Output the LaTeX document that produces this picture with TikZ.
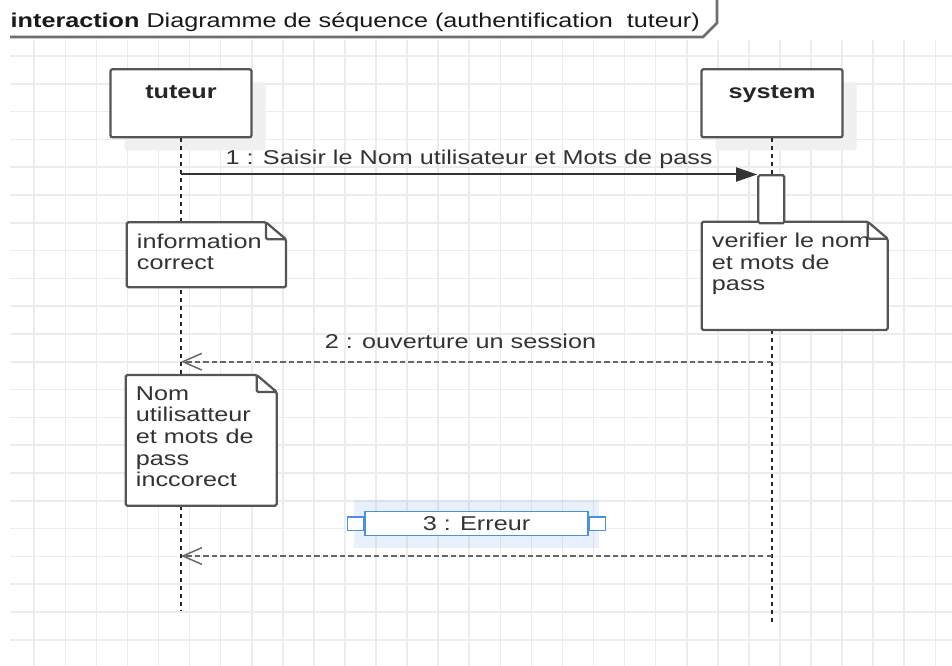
\documentclass[tikz,border=0pt]{standalone}
\usepackage{fontspec}
\setmainfont[FakeStretch=1.26]{Liberation Sans}
\usetikzlibrary{arrows.meta,shadows,positioning}

\definecolor{gridgray}{HTML}{ECECEC}
\definecolor{framegray}{HTML}{6E6E6E}
\definecolor{boxgray}{HTML}{555555}
\definecolor{shadowgray}{HTML}{F0F0F0}
\definecolor{inkgray}{HTML}{333333}
\definecolor{selblue}{HTML}{4A90E2}

\def\px{0.75pt}
\newcommand{\diafont}{\fontsize{15pt}{16.3pt}\selectfont}
% note with folded corner: name, x, y, width, height, text
\newcommand{\umlnote}[6]{%
    \draw[notebox] (#2,#3) -- (#2+#4-20,#3) -- (#2+#4,#3+17) -- (#2+#4,#3+#5) -- (#2,#3+#5) -- cycle;
    \draw[notebox, fill=none] (#2+#4-20,#3) |- (#2+#4,#3+17);
    \node[notetext] (#1) at (#2+10,#3+11) {#6};}

\begin{document}
\begin{tikzpicture}[
        x=0.75pt, y=-0.75pt,
        every node/.style = {font=\diafont, text=inkgray},
        gridline/.style = {draw=gridgray, line width=1.2pt},
        frametab/.style = {draw=framegray, line width=2pt},
        lifebox/.style = {draw=boxgray, line width=1.7pt, fill=white, rounded corners=1.5pt,
            minimum width=141*\px, minimum height=68*\px,
            general shadow={fill=shadowgray, shadow xshift=14*\px, shadow yshift=-13*\px}},
        lifename/.style = {anchor=base, yshift=-30*\px, font=\diafont\bfseries, text=black!85},
        lifeline/.style = {draw=black!85, line width=1.5pt, dash pattern=on 3pt off 3pt},
        notebox/.style = {draw=boxgray, line width=1.7pt, fill=white, rounded corners=1.2pt, line join=round},
        notetext/.style = {anchor=north west, inner sep=0pt, align=left},
        actbox/.style = {draw=boxgray, line width=1.7pt, fill=white, rounded corners=1.2pt,
            inner sep=0pt, minimum width=26*\px, minimum height=48*\px},
        call/.style = {draw=black!80, line width=1.5pt, -{Triangle[length=15.75pt, width=10.5pt]}},
        reply/.style = {draw=black!60, line width=1.5pt, dash pattern=on 4.1pt off 2.3pt,
            -{Straight Barb[length=14.25pt, width=12.5pt, line width=1.1pt]}},
        selshade/.style = {solid, draw=none, fill=selblue, fill opacity=0.12, inner sep=0pt,
            minimum width=245*\px, minimum height=48*\px},
        sellabel/.style = {solid, draw=selblue, line width=1.1pt, fill=white, inner sep=0pt,
            minimum width=223*\px, minimum height=24*\px},
        handle/.style = {solid, draw=selblue, line width=1pt, fill=white, inner sep=0pt,
            minimum width=16*\px, minimum height=13.4*\px}
        ]
    \fill[white] (0,0) rectangle (952,666);
    \useasboundingbox (0,0) rectangle (952,666);
    % grid
    \foreach \i in {1,...,30}
        \draw[gridline] (3.2+31.07*\i,40) -- (3.2+31.07*\i,666);
    \foreach \j in {0,...,21}
        \draw[gridline] (10,56+27.8*\j) -- (952,56+27.8*\j);
    % frame tab
    \draw[frametab] (10,37) -- (703,37) -- (717,23) -- (717,0);
    \node[anchor=base west, text=black!90] (title) at (6,28)
        {\textbf{interaction} Diagramme de séquence (authentification\ \ tuteur)};

    % lifelines
    \node[lifebox, label={[lifename]north:tuteur}] (tuteur) at (181,103.3) {};
    \node[lifebox, label={[lifename]north:system}] (system) at (772,103.3) {};
    \coordinate (tuteur-end) at (tuteur.south |- 0,611);
    \coordinate (system-end) at (system.south |- 0,623);
    \draw[lifeline] (tuteur) -- (tuteur-end);
    \draw[lifeline] (system) -- (system-end);

    % notes
    \umlnote{info}{126.7}{222.3}{159.3}{65}{information\\correct}
    \umlnote{check}{701.7}{221.7}{186}{108.3}{verifier le nom\\et mots de\\pass}
    \umlnote{wrong}{125.7}{375}{151}{130.7}{Nom\\utilisatteur\\et mots de\\pass\\inccorect}

    \node[actbox] (act) at (771.3,199.2) {};

    % messages
    \coordinate (m1) at (tuteur.south |- 0,174.5);
    \draw[call] (m1) -- node[anchor=base, yshift=9.5*\px] (m1-text)
        {1 : Saisir le Nom utilisateur et Mots de pass} (act.west |- m1);

    \coordinate (m2s) at (system.south |- 0,361.7);
    \coordinate (m2t) at (tuteur.south |- 0,361.7);
    \draw[reply] (m2s) -- node[anchor=base, yshift=12.7*\px, xshift=-16*\px] (m2-text)
        {2 : ouverture un session} (m2t);

    \coordinate (m3s) at (system.south |- 0,556);
    \coordinate (m3t) at (tuteur.south |- 0,556);
    \draw[reply] (m3s) -- node[selshade, yshift=32.3*\px] (err-bg) {}
        node[sellabel, yshift=32.3*\px] (err) {3 : Erreur} (m3t);
    \node[handle, anchor=east] (err-l) at (err.west) {};
    \node[handle, anchor=west] (err-r) at (err.east) {};
\end{tikzpicture}
\end{document}
